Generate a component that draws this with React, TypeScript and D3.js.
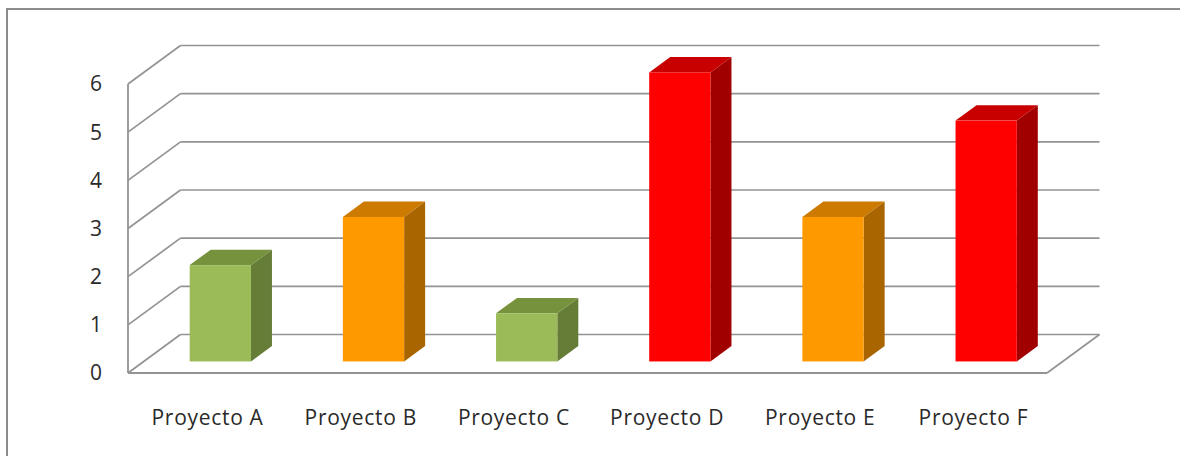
import React from "react";
import * as d3 from "d3";

const categories = ["Proyecto A", "Proyecto B", "Proyecto C", "Proyecto D", "Proyecto E", "Proyecto F"];
const values = [2, 3, 1, 6, 3, 5];
const statuses = ["verde", "naranja", "verde", "rojo", "naranja", "rojo"];
const yTicks = [0, 1, 2, 3, 4, 5, 6];

const palette: Record<string, { front: string; side: string; top: string }> = {
  verde: { front: "#9BBB59", side: "#667D38", top: "#76923C" },
  naranja: { front: "#FF9900", side: "#A86500", top: "#CC7A00" },
  rojo: { front: "#FF0000", side: "#A00000", top: "#C80000" },
};

const W = 1180;
const H = 456;
const frontLeft = 128;
const frontRight = 1047;
const frontBottom = 373;
const frontTop = 84;
const DX = 52.5;
const DY = 38.5;
const t0 = 0.3;
const t1 = 0.7;
const font = "'Open Sans', 'Noto Sans', sans-serif";

export default function App() {
  const y = d3.scaleLinear().domain([0, 6]).range([frontBottom, frontTop]);
  const x = d3.scaleBand<string>().domain(categories).range([frontLeft, frontRight]).paddingInner(0.6).paddingOuter(0.3);
  const grid = "#939393";

  return (
    <svg width={W} height={H} style={{ position: "absolute", left: 0, top: 0, background: "#fff" }}>
      <rect x={7} y={9} width={1300} height={600} fill="#fff" stroke="#8C8C8C" strokeWidth={2} />
      {/* back wall gridlines and side wall */}
      {yTicks.map((v) => (
        <g key={v}>
          <line x1={frontLeft + DX} x2={frontRight + DX} y1={y(v) - DY} y2={y(v) - DY} stroke={grid} strokeWidth={1.7} />
          <line x1={frontLeft} x2={frontLeft + DX} y1={y(v)} y2={y(v) - DY} stroke={grid} strokeWidth={1.7} />
        </g>
      ))}
      {/* floor */}
      <line x1={frontRight} x2={frontRight + DX} y1={y(0)} y2={y(0) - DY} stroke={grid} strokeWidth={1.7} />
      <line x1={frontLeft} x2={frontRight} y1={y(0)} y2={y(0)} stroke={grid} strokeWidth={1.8} />
      <line x1={frontLeft} x2={frontLeft} y1={y(6)} y2={y(0)} stroke={grid} strokeWidth={1.8} />
      {/* bars */}
      {categories.map((c, i) => {
        const col = palette[statuses[i]];
        const x0 = (x(c) as number) + DX * t0;
        const x1 = x0 + x.bandwidth();
        const yb = y(0) - DY * t0;
        const yt = y(values[i]) - DY * t0;
        const ddx = DX * (t1 - t0);
        const ddy = DY * (t1 - t0);
        const side = `M${x1},${yt}L${x1 + ddx},${yt - ddy}L${x1 + ddx},${yb - ddy}L${x1},${yb}Z`;
        const top = `M${x0},${yt}L${x0 + ddx},${yt - ddy}L${x1 + ddx},${yt - ddy}L${x1},${yt}Z`;
        return (
          <g key={c}>
            <path d={side} fill={col.side} />
            <path d={top} fill={col.top} />
            <rect x={x0} y={yt} width={x1 - x0} height={yb - yt} fill={col.front} />
          </g>
        );
      })}
      {/* y labels */}
      {yTicks.map((v) => (
        <text key={v} x={102} y={y(v)} dy="0.35em" textAnchor="end" fontFamily={font} fontSize={21} fill="#2a2a2a">
          {v}
        </text>
      ))}
      {/* x labels */}
      {categories.map((c) => (
        <text key={c} x={(x(c) as number) + x.bandwidth() / 2 + 3} y={418} dy="0.35em" textAnchor="middle" fontFamily={font} fontSize={21} letterSpacing={0.7} fill="#2a2a2a">
          {c}
        </text>
      ))}
    </svg>
  );
}
